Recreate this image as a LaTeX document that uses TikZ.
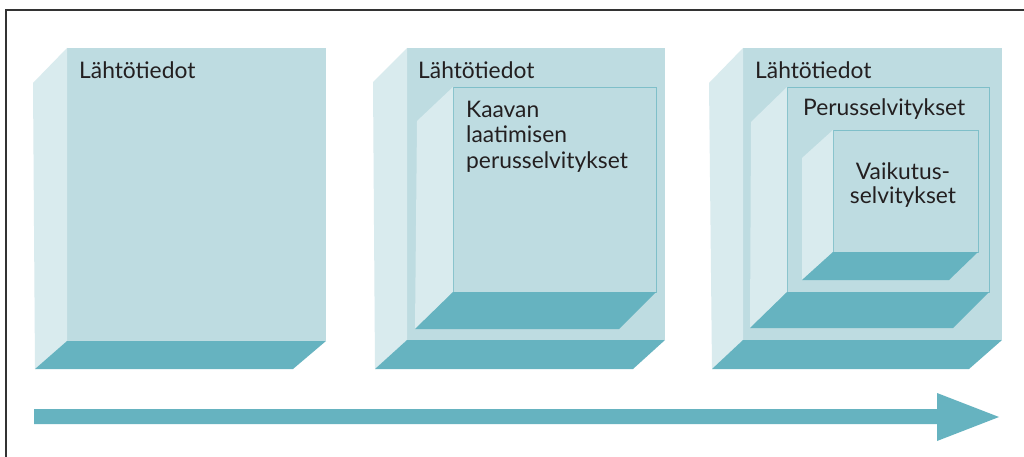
\documentclass[tikz,border=0pt]{standalone}
\usepackage{fontspec}
\setmainfont{Lato}
\definecolor{frontc}{HTML}{BEDCE1}
\definecolor{sidec}{HTML}{D9EBEE}
\definecolor{floorc}{HTML}{66B3C0}
\definecolor{edgec}{HTML}{7FBFC9}
\definecolor{txtc}{HTML}{231F20}
\tikzset{
  front/.style={fill=frontc},
  frontb/.style={fill=frontc, draw=edgec, line width=0.9pt},
  side/.style={fill=sidec},
  floor/.style={fill=floorc},
  lbl/.style={font=\fontsize{22.8}{25}\selectfont, text=txtc, inner sep=0pt},
  framel/.style={draw=black!80, line width=1.2pt}
}
\begin{document}
\begin{tikzpicture}[x=1pt,y=-1pt]
\useasboundingbox (0,0) rectangle (1024,457);
\fill[white] (0,0) rectangle (1024,457);
% frame
\draw[framel] (6,457) -- (6,10) -- (1030,10);

% ---- box 1 ----
\fill[front] (67,48) rectangle (326,341);
\fill[side] (33,83) -- (67,48) -- (67,341) -- (35,369) -- cycle;
\fill[floor] (35,369) -- (293,369) -- (326,341) -- (67,341) -- cycle;
\node[lbl, anchor=base west] (t1) at (79,79) {Lähtötiedot};

% ---- box 2 ----
\fill[front] (407,48) rectangle (665,340);
\fill[side] (373,82) -- (407,48) -- (407,340) -- (375,369) -- cycle;
\fill[floor] (375,369) -- (633,369) -- (665,340) -- (407,340) -- cycle;
\path[frontb] (453,87) rectangle (656,292);
\fill[side] (417,121) -- (453,87) -- (453,292) -- (415,329) -- cycle;
\fill[floor] (415,329) -- (619,329) -- (656,292) -- (453,292) -- cycle;
\node[lbl, anchor=base west] (t2) at (418,79) {Lähtötiedot};
\node[lbl, anchor=base west] (k1) at (466,118) {Kaavan};
\node[lbl, anchor=base west] (k2) at (466,143) {laatimisen};
\node[lbl, anchor=base west] (k3) at (466,168) {perusselvitykset};

% ---- box 3 ----
\fill[front] (743,48) rectangle (1002,340);
\fill[side] (709,83) -- (743,48) -- (743,340) -- (712,369) -- cycle;
\fill[floor] (712,369) -- (969,369) -- (1002,340) -- (743,340) -- cycle;
\path[frontb] (787,87) rectangle (989,292);
\fill[side] (751,122) -- (787,87) -- (787,292) -- (750,328) -- cycle;
\fill[floor] (750,328) -- (953,328) -- (989,292) -- (787,292) -- cycle;
\path[frontb] (833,130) rectangle (978,252);
\fill[side] (802,158) -- (833,130) -- (833,252) -- (802,280) -- cycle;
\fill[floor] (802,280) -- (949,280) -- (978,252) -- (833,252) -- cycle;
\node[lbl, anchor=base west] (t3) at (755,79) {Lähtötiedot};
\node[lbl, anchor=base west] (p1) at (803,116) {Perusselvitykset};
\node[lbl, anchor=base] (v1) at (903,179) {Vaikutus-};
\node[lbl, anchor=base] (v2) at (903,203) {selvitykset};

% ---- arrow ----
\fill[floorc] (34,409) -- (937,409) -- (937,393) -- (999,417) -- (937,441) -- (937,424) -- (34,424) -- cycle;
\end{tikzpicture}
\end{document}
